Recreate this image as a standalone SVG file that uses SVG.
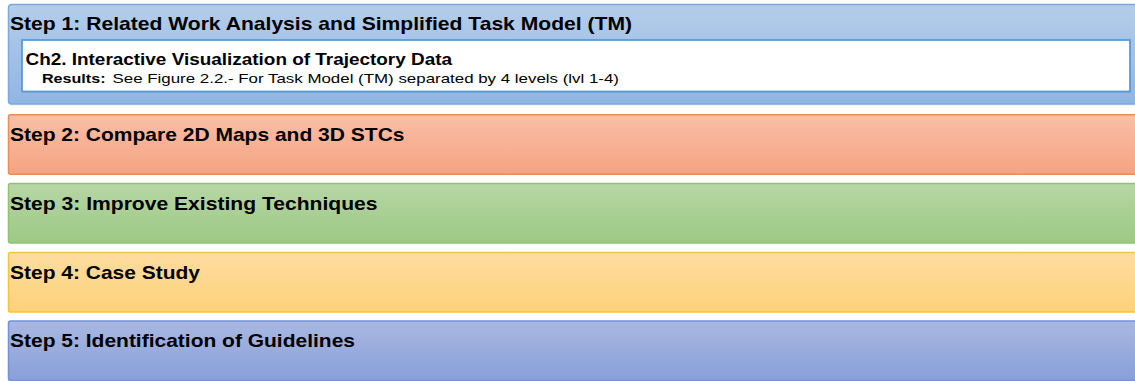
<svg xmlns="http://www.w3.org/2000/svg" width="1135" height="381" viewBox="0 0 1135 381">
  <style>
    .step { font-family: "Liberation Sans", Arial, sans-serif; font-weight: bold; font-size: 19px; fill: #000; }
    .ch { font-family: "Liberation Sans", Arial, sans-serif; font-weight: bold; font-size: 16.5px; fill: #000; }
    .res { font-family: "Liberation Sans", Arial, sans-serif; font-size: 13.5px; fill: #000; }
    .resb { font-weight: bold; }
    .box { stroke-width: 1.5; }
  </style>
  <defs>
    <linearGradient id="g1" x1="0" y1="0" x2="0" y2="1">
      <stop offset="0" stop-color="#b5cdea"/>
      <stop offset="1" stop-color="#90b5e3"/>
    </linearGradient>
    <linearGradient id="g2" x1="0" y1="0" x2="0" y2="1">
      <stop offset="0" stop-color="#f9bfa7"/>
      <stop offset="1" stop-color="#f6a381"/>
    </linearGradient>
    <linearGradient id="g3" x1="0" y1="0" x2="0" y2="1">
      <stop offset="0" stop-color="#b7d6a5"/>
      <stop offset="1" stop-color="#9cc983"/>
    </linearGradient>
    <linearGradient id="g4" x1="0" y1="0" x2="0" y2="1">
      <stop offset="0" stop-color="#fedda0"/>
      <stop offset="1" stop-color="#fdd178"/>
    </linearGradient>
    <linearGradient id="g5" x1="0" y1="0" x2="0" y2="1">
      <stop offset="0" stop-color="#a9b8e1"/>
      <stop offset="1" stop-color="#889fd8"/>
    </linearGradient>
  </defs>

  <g id="step1">
    <rect x="8.5" y="5.5" width="1132" height="100" rx="3" fill="#dbe7f5" opacity="0.6"/>
    <rect class="box" x="8.5" y="4.5" width="1132" height="99.5" rx="3" fill="url(#g1)" stroke="#7ea9dc"/>
    <text class="step" x="10" y="30" textLength="622" lengthAdjust="spacingAndGlyphs">Step 1: Related Work Analysis and Simplified Task Model (TM)</text>
  </g>

  <g id="ch2">
    <rect x="23" y="41" width="1108" height="52" fill="#6e9fd3" opacity="0.5"/>
    <rect x="22" y="40" width="1108" height="51.5" fill="#ffffff" stroke="#5b9bd5" stroke-width="1.8"/>
    <text class="ch" x="25.5" y="65" textLength="426.5" lengthAdjust="spacingAndGlyphs">Ch2. Interactive Visualization of Trajectory Data</text>
    <text class="res resb" x="42" y="83" textLength="63.5" lengthAdjust="spacingAndGlyphs">Results:</text>
    <text class="res" x="112.5" y="83" textLength="506.5" lengthAdjust="spacingAndGlyphs">See Figure 2.2.- For Task Model (TM) separated by 4 levels (lvl 1-4)</text>
  </g>

  <g id="step2">
    <rect class="box" x="8.5" y="114.8" width="1132" height="59.5" rx="2" fill="url(#g2)" stroke="#ef8c55"/>
    <text class="step" x="10" y="140.5" textLength="394.5" lengthAdjust="spacingAndGlyphs">Step 2: Compare 2D Maps and 3D STCs</text>
  </g>

  <g id="step3">
    <rect class="box" x="8.5" y="183.5" width="1132" height="59.5" rx="2" fill="url(#g3)" stroke="#90c272"/>
    <text class="step" x="10" y="209.5" textLength="367.5" lengthAdjust="spacingAndGlyphs">Step 3: Improve Existing Techniques</text>
  </g>

  <g id="step4">
    <rect class="box" x="8.5" y="252.5" width="1132" height="59.5" rx="2" fill="url(#g4)" stroke="#f6c43a"/>
    <text class="step" x="10" y="278.5" textLength="190" lengthAdjust="spacingAndGlyphs">Step 4: Case Study</text>
  </g>

  <g id="step5">
    <rect class="box" x="8.5" y="321" width="1132" height="59.5" rx="2" fill="url(#g5)" stroke="#7391d7"/>
    <text class="step" x="10" y="347" textLength="345" lengthAdjust="spacingAndGlyphs">Step 5: Identification of Guidelines</text>
  </g>

  <g id="connectors"></g>
</svg>
